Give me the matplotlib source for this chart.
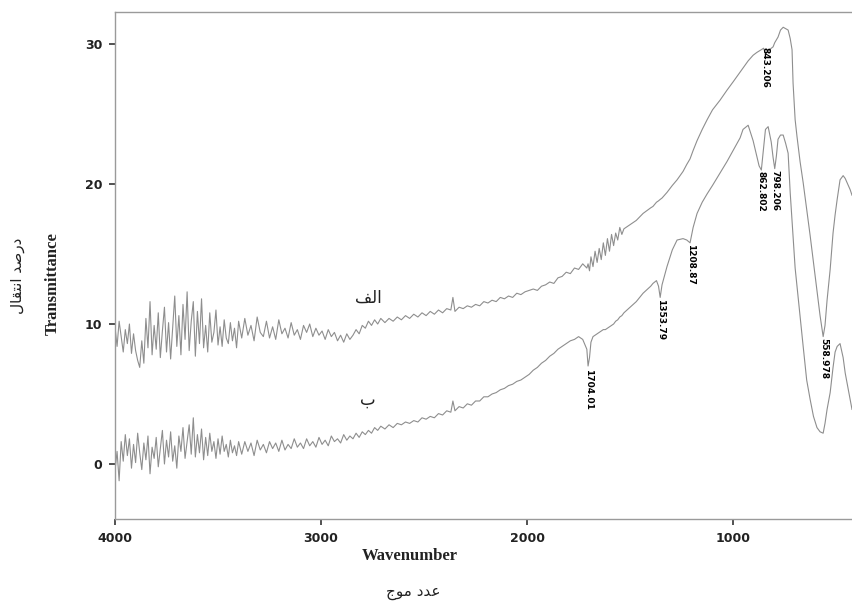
import matplotlib.pyplot as plt

# FTIR spectra, two samples (الف upper, ب lower)
wavenumber = [
    4000, 3990, 3980, 3970, 3960, 3950, 3940, 3930, 3920, 3910,
    3900, 3890, 3880, 3870, 3860, 3850, 3840, 3830, 3820, 3810,
    3800, 3790, 3780, 3770, 3760, 3750, 3740, 3730, 3720, 3710,
    3700, 3690, 3680, 3670, 3660, 3650, 3640, 3630, 3620, 3610,
    3600, 3590, 3580, 3570, 3560, 3550, 3540, 3530, 3520, 3510,
    3500, 3490, 3480, 3470, 3460, 3450, 3440, 3430, 3420, 3410,
    3400,
    3385, 3370, 3355, 3340, 3325, 3310, 3295, 3280, 3265, 3250,
    3235, 3220, 3205, 3190, 3175, 3160, 3145, 3130, 3115, 3100,
    3085, 3070, 3055, 3040, 3025, 3010, 2995, 2980, 2965, 2950,
    2935, 2920, 2905, 2890, 2875, 2860, 2845, 2830, 2815, 2800,
    2785, 2770, 2755, 2740, 2725, 2710,
    2690, 2670, 2650, 2630, 2610, 2590, 2570, 2550, 2530, 2510,
    2490, 2470, 2450, 2430, 2410, 2390, 2370, 2360, 2350, 2330,
    2310, 2290, 2270, 2250, 2230, 2210, 2190, 2170, 2150, 2130,
    2110, 2090, 2070, 2050, 2030, 2010, 1990, 1970, 1950, 1930,
    1910, 1890, 1870, 1850, 1830, 1810, 1790, 1770, 1750, 1730,
    1710,
    1704, 1697, 1690, 1680, 1670, 1660, 1650, 1640, 1630, 1620,
    1610, 1600, 1590, 1580, 1570, 1560, 1550, 1540, 1530,
    1500, 1470, 1437, 1400, 1389, 1372, 1362, 1354, 1345, 1321,
    1295, 1272, 1243, 1225, 1209, 1194, 1175, 1150, 1126, 1100,
    1063, 1030, 1000, 966, 952, 927, 903, 885, 874, 863,
    852, 843, 830, 815, 806, 798, 790, 782, 770, 757,
    745, 733, 723, 714, 709, 699, 690, 675, 660, 643,
    626, 610, 593, 578, 563, 554, 544, 529, 515, 505,
    495, 481, 466, 456, 447, 432, 423,
]

trans_a = [
    9.8, 8.4, 10.2, 9.1, 8.0, 9.6, 8.6, 10.0, 7.9, 9.3,
    8.1, 7.4, 6.9, 8.8, 7.2, 10.4, 8.3, 11.6, 7.8, 9.9,
    8.2, 10.8, 7.6, 9.5, 11.2, 8.0, 10.1, 7.5, 9.7, 12.0,
    8.4, 10.6, 7.8, 11.4, 8.9, 12.3, 8.1, 10.2, 11.6, 7.7,
    10.9, 8.6, 11.8, 8.3, 9.9, 8.0, 10.8, 8.7, 9.4, 11.0,
    8.5, 9.8, 8.4, 10.3, 9.0, 8.6, 10.1, 8.8, 9.7, 8.3,
    10.2,
    9.0, 10.4, 9.2, 9.9, 8.8, 10.5, 9.4, 9.1, 10.2, 9.0,
    9.8, 8.9, 10.3, 9.3, 9.7, 9.0, 10.1, 9.2, 9.6, 8.9,
    9.9, 9.4, 10.0, 9.1, 9.7, 9.2, 9.5, 8.9, 9.6, 9.1,
    9.4, 8.8, 9.2, 8.7, 9.3, 8.9, 9.2, 9.6, 9.3, 9.9,
    9.7, 10.2, 9.9, 10.3, 10.0, 10.4,
    10.1, 10.4, 10.2, 10.5, 10.3, 10.6, 10.4, 10.7, 10.5, 10.8,
    10.6, 10.9, 10.7, 11.0, 10.8, 11.1, 11.0, 11.9, 10.9, 11.2,
    11.1, 11.3, 11.2, 11.4, 11.3, 11.6, 11.5, 11.7, 11.6, 11.9,
    11.8, 12.0, 11.9, 12.2, 12.1, 12.3, 12.4, 12.5, 12.4, 12.7,
    12.8, 13.0, 12.9, 13.3, 13.4, 13.7, 13.6, 14.0, 13.9, 14.3,
    14.0,
    14.3, 13.8, 14.8, 14.1, 15.2, 14.4, 15.4, 14.6, 15.8, 14.9,
    16.1, 15.2, 16.4, 15.6, 16.5, 16.0, 16.9, 16.4, 16.8,
    17.1, 17.4, 17.9, 18.3, 18.4, 18.7, 18.8, 18.9, 19.0, 19.4,
    19.9, 20.3, 20.9, 21.4, 21.8, 22.4, 23.1, 23.9, 24.6, 25.3,
    26.0, 26.7, 27.3, 28.0, 28.3, 28.8, 29.2, 29.4, 29.5, 29.6,
    29.7, 29.3, 29.5, 29.7, 29.8, 30.1, 30.3, 30.5, 31.0, 31.2,
    31.1, 31.0, 30.4, 29.6, 27.2, 24.6, 23.4, 21.6, 20.1, 18.2,
    16.3, 14.4, 12.4, 10.6, 9.1, 9.9, 11.7, 13.9, 16.5, 17.8,
    18.9, 20.3, 20.6, 20.4, 20.1, 19.6, 19.2,
]

trans_b = [
    -0.5, 0.9, -1.2, 1.6, 0.2, 2.1, 0.6, 1.8, -0.3, 1.4,
    0.1, 2.2, 0.8, -0.4, 1.5, 0.3, 2.0, -0.7, 1.2, 0.4,
    1.9, -0.2, 1.1, 2.4, 0.0, 1.7, 0.5, 2.3, 0.2, 1.3,
    -0.3, 2.0, 0.9, 2.6, 0.4, 1.6, 2.8, 0.7, 3.3, 0.5,
    2.1, 0.8, 2.5, 0.3, 1.9, 0.6, 2.2, 0.9, 1.6, 0.4,
    1.8, 0.7, 2.0, 0.9, 1.4, 0.5, 1.7, 0.8, 1.3, 0.6,
    1.6,
    0.7, 1.6, 0.9, 1.5, 0.6, 1.7, 1.0, 1.4, 0.8, 1.6,
    1.1, 1.5, 0.9, 1.7, 1.0, 1.4, 1.1, 1.8, 1.2, 1.5,
    1.1, 1.8, 1.3, 1.6, 1.2, 1.9, 1.4, 1.7, 1.3, 2.0,
    1.6, 1.8, 1.5, 2.1, 1.7, 2.0, 1.8, 2.2, 1.9, 2.3,
    2.1, 2.4, 2.2, 2.6, 2.4, 2.7,
    2.5, 2.8, 2.6, 2.9, 2.8, 3.0, 2.9, 3.1, 3.0, 3.3,
    3.2, 3.4, 3.3, 3.6, 3.5, 3.8, 3.7, 4.5, 3.8, 4.1,
    4.0, 4.3, 4.2, 4.5, 4.5, 4.8, 4.8, 5.0, 5.1, 5.3,
    5.4, 5.6, 5.7, 5.9, 6.0, 6.2, 6.4, 6.7, 6.9, 7.2,
    7.4, 7.7, 7.9, 8.2, 8.4, 8.6, 8.8, 8.9, 9.1, 8.9,
    8.2,
    7.0, 7.6, 8.7, 9.1, 9.2, 9.3, 9.4, 9.5, 9.6, 9.6,
    9.7, 9.8, 9.9, 10.0, 10.2, 10.3, 10.5, 10.6, 10.8,
    11.2, 11.6, 12.2, 12.7, 12.9, 13.1, 12.7, 11.9, 12.8, 14.1,
    15.3, 16.0, 16.1, 16.0, 15.8, 16.9, 17.9, 18.7, 19.3, 19.9,
    20.8, 21.6, 22.4, 23.3, 23.9, 24.2, 23.1, 22.0, 21.3, 21.0,
    22.6, 23.9, 24.1, 23.0, 21.9, 21.1, 22.0, 23.2, 23.5, 23.5,
    22.9, 22.2, 19.4, 17.4, 16.2, 14.0, 12.7, 10.5, 8.4, 6.0,
    4.6, 3.4, 2.6, 2.3, 2.2, 2.9, 3.9, 5.1, 6.9, 8.0,
    8.4, 8.6, 7.6, 6.5, 5.8, 4.6, 3.9,
]

# band labels: position (wavenumber, transmittance) and text
band_wn = [1704, 1354, 1209, 863, 798, 843, 559]
band_t = [6.9, 11.9, 15.8, 21.0, 21.1, 29.9, 9.1]
band_lbl = ['1704.01', '1353.79', '1208.87', '862.802', '798.206', '843.206', '558.978']

x_ticks = [4000, 3000, 2000, 1000]
y_ticks = [0, 10, 20, 30]

name_a = 'الف'
name_b = 'ب'
name_pos = (2772, 11.9, 4.6)

# matplotlib has no arabic shaping, so pick the contextual forms by hand
FORMS = {
    'ا': ('\uFE8D', '\uFE8E', None, None),
    'ب': ('\uFE8F', '\uFE90', '\uFE91', '\uFE92'),
    'ت': ('\uFE95', '\uFE96', '\uFE97', '\uFE98'),
    'ج': ('\uFE9D', '\uFE9E', '\uFE9F', '\uFEA0'),
    'د': ('\uFEA9', '\uFEAA', None, None),
    'ر': ('\uFEAD', '\uFEAE', None, None),
    'ص': ('\uFEB9', '\uFEBA', '\uFEBB', '\uFEBC'),
    'ع': ('\uFEC9', '\uFECA', '\uFECB', '\uFECC'),
    'ف': ('\uFED1', '\uFED2', '\uFED3', '\uFED4'),
    'ق': ('\uFED5', '\uFED6', '\uFED7', '\uFED8'),
    'ل': ('\uFEDD', '\uFEDE', '\uFEDF', '\uFEE0'),
    'م': ('\uFEE1', '\uFEE2', '\uFEE3', '\uFEE4'),
    'ن': ('\uFEE5', '\uFEE6', '\uFEE7', '\uFEE8'),
    'و': ('\uFEED', '\uFEEE', None, None),
}


def rtl(s):
    out = []
    for i, ch in enumerate(s):
        if ch not in FORMS:
            out.append(ch)
            continue
        iso, fin, ini, med = FORMS[ch]
        prev = s[i - 1] if i > 0 else ''
        nxt = s[i + 1] if i + 1 < len(s) else ''
        join_prev = prev in FORMS and FORMS[prev][2] is not None
        join_next = nxt in FORMS and ini is not None
        if join_prev and join_next:
            out.append(med)
        elif join_prev:
            out.append(fin)
        elif join_next:
            out.append(ini)
        else:
            out.append(iso)
    return ''.join(reversed(out))


plt.rcParams['font.family'] = ['DejaVu Sans']

fig = plt.figure(figsize=(8.52, 6.01), dpi=100)
ax = fig.add_axes([115 / 852, 1 - 519 / 601, 1 - 115 / 852, 507 / 601])

line_color = '#8e8e8e'
ax.plot(wavenumber, trans_a, color=line_color, lw=0.8)
ax.plot(wavenumber, trans_b, color=line_color, lw=0.8)

ax.set_xlim(4000, 423)
ax.set_ylim(-3.93, 32.29)
ax.set_xticks(x_ticks)
ax.set_yticks(y_ticks)
ax.tick_params(direction='out', length=4, width=1.2, color='#333333',
               labelsize=9, labelcolor='#222222')
ax.tick_params(axis='x', pad=5)
ax.tick_params(axis='y', pad=5)
for lab in ax.get_xticklabels() + ax.get_yticklabels():
    lab.set_fontweight('bold')

for side in ['left', 'bottom', 'top']:
    ax.spines[side].set_color('#9a9a9a')
    ax.spines[side].set_linewidth(1.0)
ax.spines['right'].set_visible(False)

# peak labels hang below each band
for w, t, lbl in zip(band_wn, band_t, band_lbl):
    ax.text(w, t - 0.1, lbl, rotation=270, ha='center', va='top',
            fontsize=6.5, fontweight='bold', color='black')

ax.text(name_pos[0], name_pos[1], rtl(name_a), ha='center', va='center',
        fontsize=12, color='#222222')
ax.text(name_pos[0], name_pos[2], rtl(name_b), ha='center', va='center',
        fontsize=12, color='#222222')

# axis titles (English + Persian)
fig.text(53 / 852, 1 - 284 / 601, 'Transmittance', rotation=90, ha='center', va='center',
         family='Liberation Serif', fontweight='bold', fontsize=12, color='#222222')
fig.text(18 / 852, 1 - 276 / 601, rtl('درصد انتقال'), rotation=90, ha='center', va='center',
         fontsize=11, color='#222222')
fig.text(410 / 852, 1 - 556 / 601, 'Wavenumber', ha='center', va='center',
         family='Liberation Serif', fontweight='bold', fontsize=12, color='#222222')
fig.text(413 / 852, 1 - 592 / 601, rtl('عدد موج'), ha='center', va='center',
         fontsize=11, color='#222222')

fig.savefig('out.png', dpi=100)
